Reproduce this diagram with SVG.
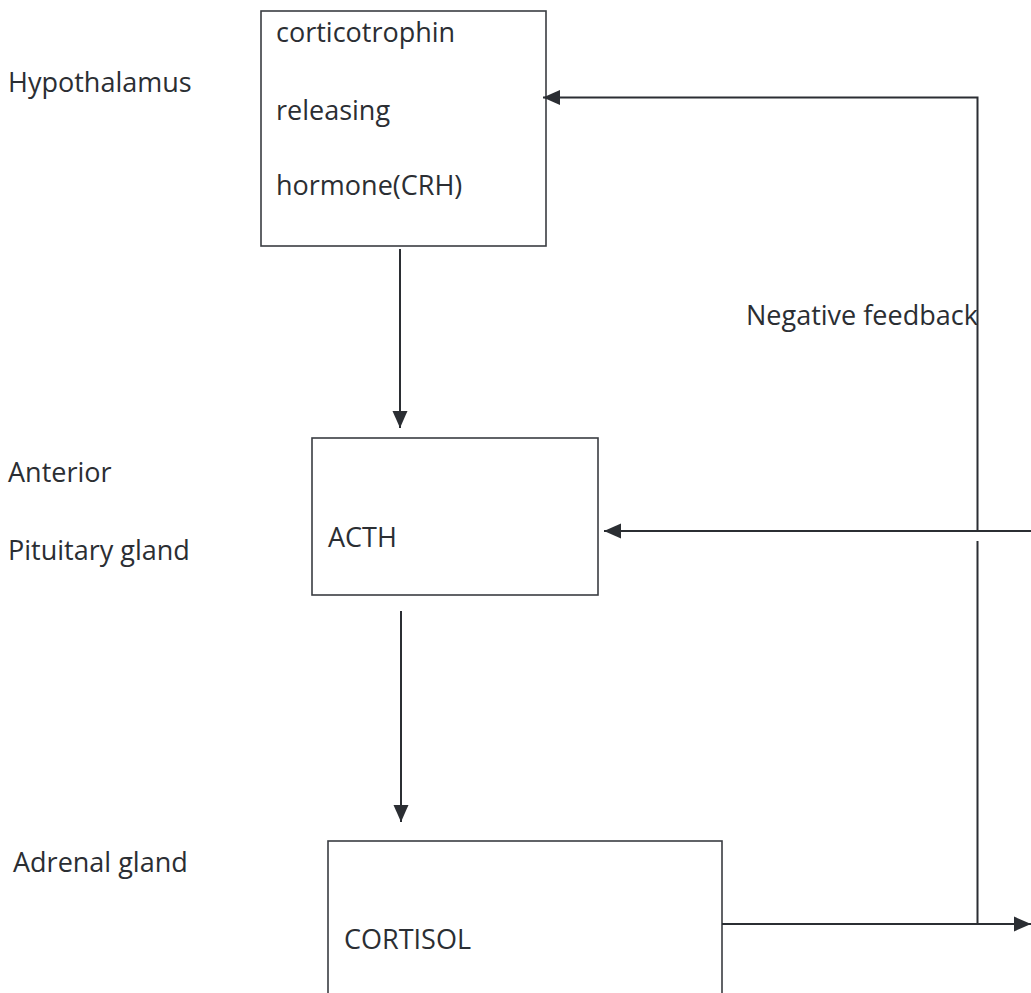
<svg xmlns="http://www.w3.org/2000/svg" width="1031" height="993" viewBox="0 0 1031 993">
<defs>
<style>
.t{font-family:"Open Sans",Lato,"Liberation Sans",sans-serif;font-size:27px;fill:#2b2e33}
.box{fill:none;stroke:#3a3d42;stroke-width:1.6}
.ln{fill:none;stroke:#2b2e33;stroke-width:2}
</style>
<marker id="ah" viewBox="0 0 10 10" refX="10" refY="5" markerWidth="17" markerHeight="17" markerUnits="userSpaceOnUse" orient="auto">
<path d="M0,0.6 L10,5 L0,9.4 z" fill="#2b2e33"/>
</marker>
</defs>
<rect width="1031" height="993" fill="#ffffff"/>
<g id="labels">
<text class="t" x="8" y="92">Hypothalamus</text>
<text class="t" x="8" y="482">Anterior</text>
<text class="t" x="8" y="560">Pituitary gland</text>
<text class="t" x="13" y="872">Adrenal gland</text>
<text class="t" x="746" y="325">Negative feedback</text>
</g>
<g id="crh">
<rect class="box" x="261" y="11" width="285" height="235"/>
<text class="t" x="276" y="42">corticotrophin</text>
<text class="t" x="276" y="120">releasing</text>
<text class="t" x="276" y="195">hormone(CRH)</text>
</g>
<g id="acth">
<rect class="box" x="312" y="438" width="286" height="157"/>
<text class="t" x="328" y="547">ACTH</text>
</g>
<g id="cortisol">
<rect class="box" x="328" y="841" width="394" height="160"/>
<text class="t" x="344" y="949">CORTISOL</text>
</g>
<g id="connectors">
<line class="ln" x1="400" y1="249" x2="400" y2="428" marker-end="url(#ah)"/>
<line class="ln" x1="401" y1="611" x2="401" y2="822" marker-end="url(#ah)"/>
<polyline class="ln" points="977.5,531 977.5,97.5 543,97.5" marker-end="url(#ah)"/>
<line class="ln" x1="977.5" y1="541" x2="977.5" y2="924"/>
<line class="ln" x1="1031" y1="531" x2="604" y2="531" marker-end="url(#ah)"/>
<line class="ln" x1="722" y1="924" x2="1031" y2="924" marker-end="url(#ah)"/>
</g>
</svg>
